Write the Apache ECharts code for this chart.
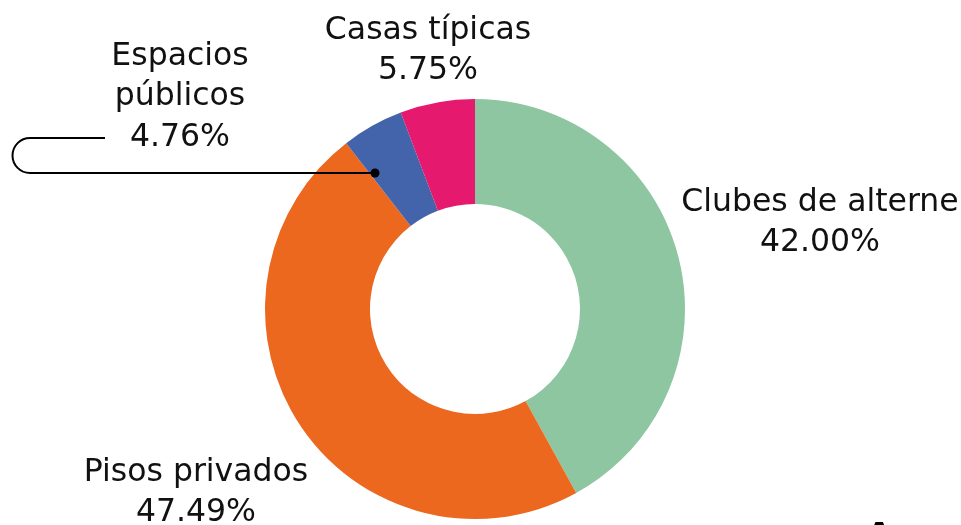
<!DOCTYPE html>
<html>
<head>
<meta charset="utf-8">
<script src="https://cdn.jsdelivr.net/npm/echarts@6/dist/echarts.min.js"></script>
<style>
html,body{margin:0;padding:0;background:#fff;}
#chart{width:961px;height:525px;}
</style>
</head>
<body>
<div id="chart"></div>
<script>
const categories = ['Clubes de alterne', 'Pisos privados', 'Espacios públicos', 'Casas típicas'];
const labelNames = ['Clubes de alterne', 'Pisos privados', 'Espacios\npúblicos', 'Casas típicas'];
const values = [42.00, 47.49, 4.76, 5.75];
const colors = ['#8DC6A0', '#EB681E', '#4364AA', '#E5196D'];

// label anchor positions (centre of label block) per category
const labelPos = [[820, 223], [196, 493], [180, 97], [428, 51]];
const FONT = 'DejaVu Sans';

const chart = echarts.init(document.getElementById('chart'));
chart.setOption({
  animation: false,
  series: [{
    type: 'pie',
    center: [475, 309],
    radius: [105, 210],
    startAngle: 90,
    clockwise: true,
    avoidLabelOverlap: false,
    data: categories.map((c, i) => ({
      name: c, value: values[i],
      itemStyle: { color: colors[i] }
    })),
    label: {
      show: true,
      position: 'outside',
      color: '#111',
      fontFamily: FONT,
      fontSize: 31.5,
      lineHeight: 40.5,
      align: 'center',
      formatter: p => labelNames[p.dataIndex] + '\n' + p.value.toFixed(2) + '%'
    },
    labelLine: { show: false },
    labelLayout: p => ({
      x: labelPos[p.dataIndex][0],
      y: labelPos[p.dataIndex][1],
      align: 'center',
      verticalAlign: 'middle'
    })
  }],
  graphic: [
    { type: 'polyline', z: 100, shape: { points: [[375, 173], [30, 173]] }, style: { stroke: '#000', lineWidth: 2, fill: null } },
    { type: 'arc', z: 100, shape: { cx: 30, cy: 155.5, r: 17.5, startAngle: Math.PI / 2, endAngle: Math.PI * 1.5, clockwise: true }, style: { stroke: '#000', lineWidth: 2, fill: null } },
    { type: 'polyline', z: 100, shape: { points: [[30, 138], [105, 138]] }, style: { stroke: '#000', lineWidth: 2, fill: null } },
    { type: 'circle', z: 100, shape: { cx: 375, cy: 173, r: 4.5 }, style: { fill: '#000' } },
    { type: 'text', z: 100, left: 866, top: 521, style: { text: 'Amori', fontFamily: FONT, fontWeight: 'bold', fontSize: 34, fill: '#000' } }
  ]
});
</script>
</body>
</html>
